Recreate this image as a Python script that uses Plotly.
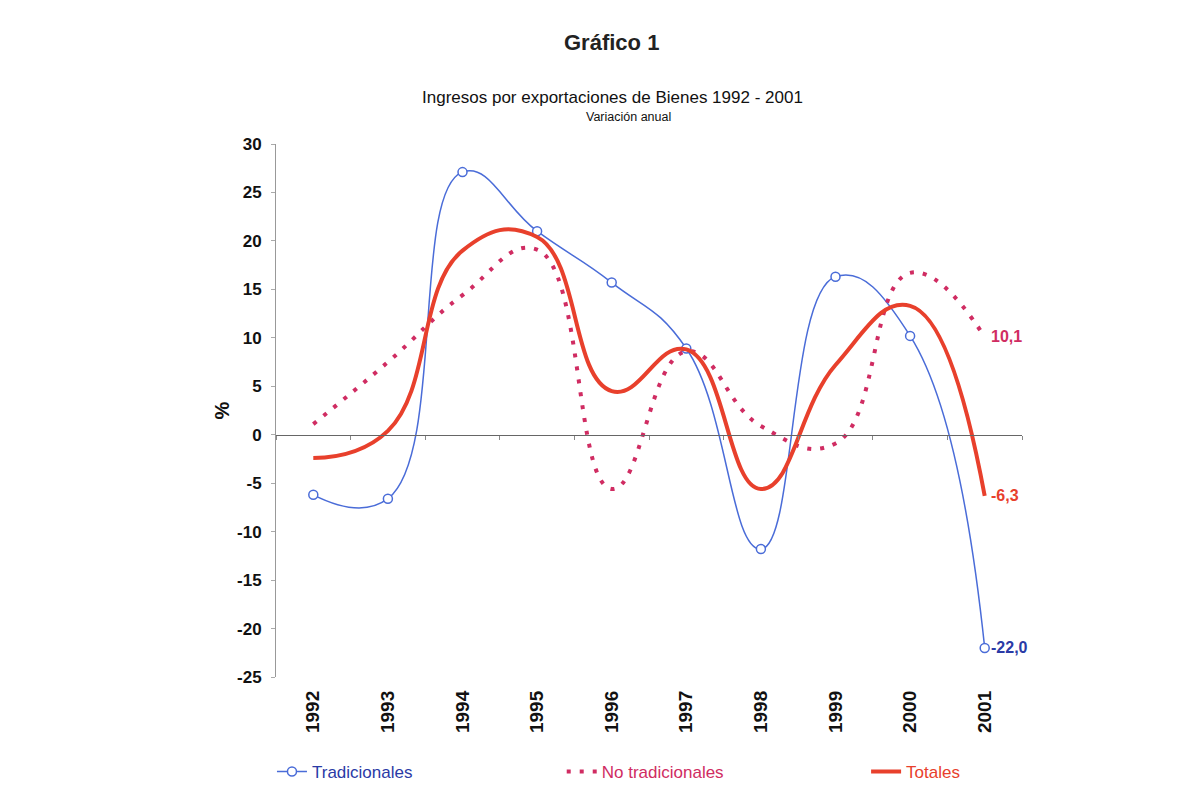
import plotly.graph_objects as go

years = ["1992", "1993", "1994", "1995", "1996", "1997", "1998", "1999", "2000", "2001"]
tradicionales = [-6.2, -6.6, 27.1, 21.0, 15.7, 8.9, -11.8, 16.3, 10.2, -22.0]
no_tradicionales = [1.1, 7.5, 14.4, 19.1, -5.6, 8.6, 0.9, -0.9, 16.7, 10.1]
totales = [-2.4, 0.4, 19.0, 20.4, 4.5, 8.8, -5.6, 7.2, 13.3, -6.3]
end_labels = ["-22,0", "10,1", "-6,3"]
y_tickvals = [30, 25, 20, 15, 10, 5, 0, -5, -10, -15, -20, -25]
y_ticktext = ["30", "25", "20", "15", "10", "5", "0", "-5", "-10", "-15", "-20", "-25"]

BLUE = "#4a6cd8"
BLUE_TXT = "#2a3aa6"
MAG = "#d02c62"
RED = "#e8402c"
FONT = "Liberation Sans, Arial"
SM = 1.3

fig = go.Figure()

fig.add_trace(go.Scatter(
    x=years, y=tradicionales, mode="lines+markers", legend="legend",
    name=f"<span style='color:{BLUE_TXT}'>Tradicionales</span>",
    line=dict(color=BLUE, width=1.5, shape="spline", smoothing=SM),
    marker=dict(symbol="circle", size=9, color="white", line=dict(color=BLUE, width=1.5)),
))
fig.add_trace(go.Scatter(
    x=years, y=no_tradicionales, mode="lines", legend="legend2",
    name=f"<span style='color:{MAG}'>No tradicionales</span>",
    line=dict(color=MAG, width=4, dash="4px,9px", shape="spline", smoothing=SM),
))
fig.add_trace(go.Scatter(
    x=years, y=totales, mode="lines", legend="legend3",
    name=f"<span style='color:{RED}'>Totales</span>",
    line=dict(color=RED, width=4, shape="spline", smoothing=SM),
))
# helper trace for the zero-line axis
fig.add_trace(go.Scatter(
    x=years, y=[0] * len(years), xaxis="x2", mode="markers",
    marker=dict(opacity=0), showlegend=False, hoverinfo="skip",
))

ends = [(tradicionales[-1], end_labels[0], BLUE_TXT),
        (no_tradicionales[-1], end_labels[1], MAG),
        (totales[-1], end_labels[2], RED)]
annotations = []
for val, txt, col in ends:
    annotations.append(dict(
        x=len(years) - 1, y=val, xref="x", yref="y", text=txt, showarrow=False,
        xanchor="left", yanchor="middle", xshift=4,
        font=dict(family=FONT, size=16, color=col, weight="bold"),
    ))

annotations += [
    dict(text="Gráfico 1", x=0.450, y=1.191, xref="paper", yref="paper", showarrow=False,
         xanchor="center", yanchor="middle",
         font=dict(family=FONT, size=22, color="#222", weight="bold")),
    dict(text="Ingresos por exportaciones de Bienes 1992 - 2001", x=0.451, y=1.088,
         xref="paper", yref="paper", showarrow=False, xanchor="center", yanchor="middle",
         font=dict(family=FONT, size=17, color="#111")),
    dict(text="Variación anual", x=0.472, y=1.051, xref="paper", yref="paper", showarrow=False,
         xanchor="center", yanchor="middle",
         font=dict(family=FONT, size=12.5, color="#111")),
]

leg_common = dict(orientation="h", y=-0.178, yanchor="middle", xanchor="left",
                  itemwidth=30, font=dict(family=FONT, size=17), bgcolor="rgba(0,0,0,0)")

fig.update_layout(
    width=1189, height=797,
    margin=dict(l=268, r=175, t=136, b=128, autoexpand=False),
    paper_bgcolor="white", plot_bgcolor="white",
    showlegend=True,
    legend=dict(x=-0.0054, **leg_common),
    legend2=dict(x=0.383, **leg_common),
    legend3=dict(x=0.791, **leg_common),
    annotations=annotations,
    xaxis=dict(type="category", categoryorder="array", categoryarray=years,
               range=[-0.5, 9.5], showline=False, showgrid=False, zeroline=False,
               ticks="", tickangle=-90, ticklabelstandoff=9,
               tickfont=dict(family=FONT, size=19, color="#111", weight="bold")),
    xaxis2=dict(type="category", categoryorder="array", categoryarray=years,
                range=[-0.5, 9.5], overlaying="x", anchor="free", position=25 / 55,
                showline=True, linecolor="#666", linewidth=1.2, showgrid=False,
                ticks="outside", ticklen=4, tickcolor="#888", tickson="boundaries",
                showticklabels=False, zeroline=False),
    yaxis=dict(range=[-25, 30], tickvals=y_tickvals, ticktext=y_ticktext,
               showgrid=False, zeroline=False,
               showline=True, linecolor="#999", linewidth=1,
               ticks="outside", ticklen=4, tickcolor="#aaa", ticklabelstandoff=6,
               tickfont=dict(family=FONT, size=17, color="#111", weight="bold"),
               title=dict(text="%", standoff=2,
                          font=dict(family=FONT, size=20, color="#111", weight="bold"))),
)

fig.write_html("out.html")
